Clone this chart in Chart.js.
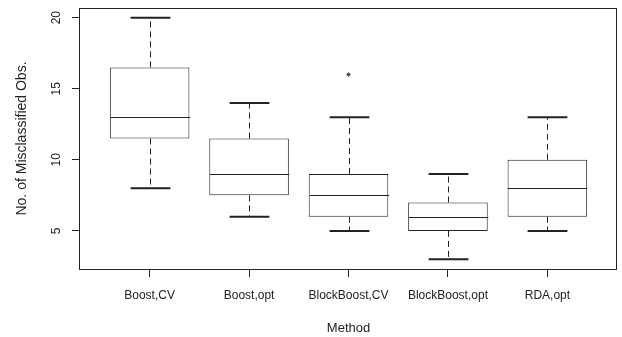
<!DOCTYPE html>
<html>
<head>
<meta charset="utf-8">
<script src="https://cdn.jsdelivr.net/npm/chart.js@4/dist/chart.umd.min.js"></script>
<style>
  html, body { margin: 0; padding: 0; background: #fff; }
</style>
</head>
<body>
<canvas id="boxChart" width="622" height="337"></canvas>
<script>
// Data
const methods = ['Boost,CV', 'Boost,opt', 'BlockBoost,CV', 'BlockBoost,opt', 'RDA,opt'];
const whiskerLow = [8, 6, 5, 3, 5];
const q1 = [11.5, 7.5, 6, 5, 6];
const medians = [13, 9, 7.5, 6, 8];
const q3 = [16.5, 11.5, 9, 7, 10];
const whiskerHigh = [20, 14, 13, 9, 13];
const outlierMethod = [3];   // position of the method (1-based)
const outlierValue = [16];
const yTicks = [5, 10, 15, 20];

const ink = '#222';
const font = 'Liberation Sans, Arial, Helvetica, sans-serif';

// whiskers, staples, medians, frame and rotated y labels
const boxParts = {
    id: 'boxParts',
    afterDatasetsDraw(chart) {
        const ctx = chart.ctx;
        const yScale = chart.scales.y;
        const area = chart.chartArea;
        const bars = chart.getDatasetMeta(0).data;
        ctx.save();
        ctx.strokeStyle = ink;
        bars.forEach((bar, i) => {
            const x = Math.round(bar.x) + 0.5;
            const w = bar.width;
            const yLo = yScale.getPixelForValue(whiskerLow[i]);
            const yQ1 = yScale.getPixelForValue(q1[i]);
            const yMed = yScale.getPixelForValue(medians[i]);
            const yQ3 = yScale.getPixelForValue(q3[i]);
            const yHi = yScale.getPixelForValue(whiskerHigh[i]);
            // dashed whiskers
            ctx.lineWidth = 1;
            ctx.setLineDash([6, 4]);
            ctx.beginPath();
            ctx.moveTo(x, yQ3); ctx.lineTo(x, yHi);
            ctx.moveTo(x, yQ1); ctx.lineTo(x, yLo);
            ctx.stroke();
            ctx.setLineDash([]);
            // staples
            ctx.lineWidth = 2;
            ctx.beginPath();
            ctx.moveTo(x - w / 4, yHi); ctx.lineTo(x + w / 4, yHi);
            ctx.moveTo(x - w / 4, yLo); ctx.lineTo(x + w / 4, yLo);
            ctx.stroke();
            // median
            ctx.lineWidth = 1;
            ctx.beginPath();
            ctx.moveTo(x - w / 2, Math.round(yMed) + 0.5);
            ctx.lineTo(x + w / 2, Math.round(yMed) + 0.5);
            ctx.stroke();
        });
        // frame around the plot region
        ctx.lineWidth = 1;
        ctx.strokeRect(area.left - 0.5, area.top + 0.5, area.right - area.left, area.bottom - area.top);
        // y tick labels, rotated like R
        ctx.fillStyle = ink;
        ctx.font = '12px ' + font;
        ctx.textAlign = 'center';
        ctx.textBaseline = 'middle';
        yTicks.forEach(v => {
            const y = yScale.getPixelForValue(v);
            ctx.save();
            ctx.translate(57, y);
            ctx.rotate(-Math.PI / 2);
            ctx.fillText(String(v), 0, 0);
            ctx.restore();
        });
        ctx.restore();
    }
};

const data = {
    datasets: [{
        type: 'bar',
        data: methods.map((m, i) => ({ x: i + 1, y: [q1[i], q3[i]] })),
        backgroundColor: '#fff',
        borderColor: ink,
        borderWidth: 1,
        borderSkipped: false,
        barPercentage: 0.8,
        categoryPercentage: 1
    }, {
        type: 'scatter',
        data: outlierMethod.map((m, i) => ({ x: m, y: outlierValue[i] })),
        pointStyle: 'star',
        radius: 2.2,
        borderColor: '#555',
        borderWidth: 1,
        backgroundColor: '#555'
    }]
};

const config = {
    type: 'bar',
    data: data,
    options: {
        responsive: false,
        animation: false,
        layout: { padding: { top: 8, right: 5, left: 0, bottom: 0 } },
        plugins: { legend: { display: false }, tooltip: { enabled: false } },
        scales: {
            x: {
                type: 'linear',
                min: 0.3,
                max: 5.7,
                offset: false,
                afterBuildTicks: s => { s.ticks = methods.map((m, i) => ({ value: i + 1 })); },
                afterFit: s => { s.height = 68; },
                ticks: {
                    autoSkip: false,
                    maxRotation: 0,
                    padding: 11,
                    color: ink,
                    font: { family: font, size: 12 },
                    callback: v => methods[v - 1]
                },
                grid: { offset: false, drawOnChartArea: false, drawTicks: true, tickLength: 8, tickColor: ink },
                border: { display: false },
                title: {
                    display: true,
                    text: 'Method',
                    color: ink,
                    font: { family: font, size: 13 },
                    padding: { top: 0, bottom: 1 }
                }
            },
            y: {
                min: 2.32,
                max: 20.68,
                afterBuildTicks: s => { s.ticks = yTicks.map(v => ({ value: v })); },
                afterFit: s => { s.width = 80; },
                ticks: { display: false },
                grid: { drawOnChartArea: false, drawTicks: true, tickLength: 8, tickColor: ink },
                border: { display: false },
                title: {
                    display: true,
                    text: 'No. of Misclassified Obs.',
                    color: ink,
                    font: { family: font, size: 14 },
                    padding: { top: 14, bottom: 0 }
                }
            }
        }
    },
    plugins: [boxParts]
};

const ctx = document.getElementById('boxChart').getContext('2d');
const boxChart = new Chart(ctx, config);
</script>
</body>
</html>
